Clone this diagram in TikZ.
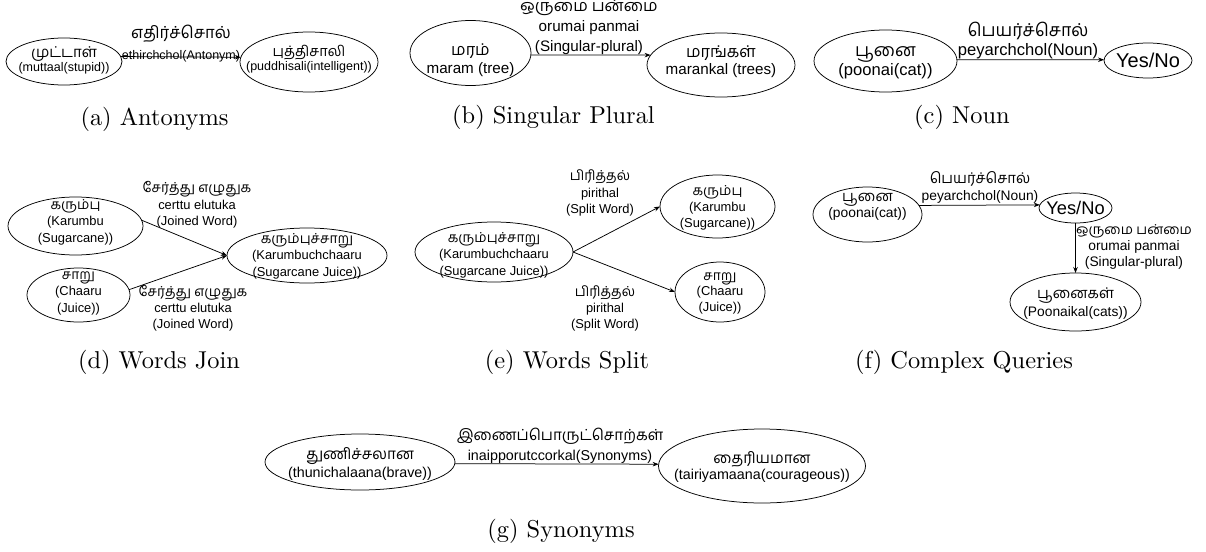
\documentclass[tikz,border=0pt]{standalone}
\usepackage{fontspec}
\setsansfont{Liberation Sans}
\newfontfamily\tamil[Script=Tamil,Scale=1.07]{Hind Madurai}
\newfontfamily\capfont{lmroman10-regular.otf}
\usetikzlibrary{shapes.geometric,arrows.meta}
\newcommand\fsz[2]{\fontsize{#1}{#2}\selectfont}
\tikzset{
  ell/.style 2 args={ellipse,draw,line width=0.75pt,inner sep=0pt,outer sep=0pt,minimum width=#1,minimum height=#2},
  arr/.style={-{Stealth[length=6pt,width=4.5pt]},line width=0.75pt},
  tx/.style 2 args={align=center,inner sep=0pt,font=\sffamily\fsz{#1}{#2}},
  captext/.style={inner sep=0pt,font=\capfont\fsz{24.4}{29}}}
\begin{document}
\begin{tikzpicture}[x=1pt,y=-1pt]
\useasboundingbox (0,0) rectangle (1206,551);

% (a) Antonyms
\node[ell={116pt}{47pt}] (A1) at (64,61.5) {};
\node[tx={12.5}{14}] (A1t) at (64,60) {{\tamil\fontsize{14}{14}\selectfont முட்டாள்}\\(muttaal(stupid))};
\node[ell={138pt}{60pt}] (A2) at (309,62) {};
\node[tx={12.5}{14}] (A2t) at (309,59.5) {{\tamil\fontsize{13.5}{14}\selectfont புத்திசாலி}\\(puddhisali(intelligent))};
\node[tx={12.5}{21}] (la) at (181,43.5) {{\tamil\fontsize{15.5}{21}\selectfont எதிர்ச்சொல்}\\ethirchchol(Antonym)};
\draw[arr] (A1.5) -- (A2.176);
\node[captext] (capa) at (154.5,119.5) {(a) Antonyms};

% (b) Singular Plural
\node[ell={121pt}{65pt}] (B1) at (470.5,53) {};
\node[tx={15.2}{17.5}] (B1t) at (470.5,60) {{\tamil மரம்}\\maram (tree)};
\node[ell={148pt}{64pt}] (B2) at (721,65) {};
\node[tx={15.2}{17.5}] (B2t) at (721,61.5) {{\tamil மரங்கள்}\\marankal (trees)};
\node[tx={15.2}{20}] (lb) at (589,27) {{\tamil ஒருமை பன்மை}\\orumai panmai\\(Singular-plural)};
\draw[arr] (B1.-2) -- (B2.172);
\node[captext] (capb) at (553.5,117) {(b) Singular Plural};

% (c) Noun
\node[ell={143pt}{62pt}] (C1) at (885.5,61) {};
\node[tx={16.6}{19}] (C1t) at (885.5,63) {{\tamil பூனை}\\(poonai(cat))};
\node[ell={88pt}{35pt}] (C2) at (1148,60.5) {};
\node[tx={20}{24}] (C2t) at (1148,60.5) {Yes/No};
\node[tx={16.6}{19}] (lc) at (1028,40.5) {{\tamil பெயர்ச்சொல்}\\peyarchchol(Noun)};
\draw[arr] (C1.1) -- (C2.179);
\node[captext] (capc) at (962,117.5) {(c) Noun};

% (d) Words Join
\node[ell={135pt}{58pt}] (D1) at (75.5,226) {};
\node[tx={12.9}{16.5}] (D1t) at (75.5,222) {{\tamil கரும்பு}\\(Karumbu\\(Sugarcane))};
\node[ell={103pt}{54pt}] (D2) at (78.5,295) {};
\node[tx={12.9}{16.5}] (D2t) at (78.5,293) {{\tamil சாறு}\\(Chaaru\\(Juice))};
\node[ell={160pt}{55pt}] (D3) at (307,255.5) {};
\node[tx={12.9}{16.5}] (D3t) at (307,256) {{\tamil கரும்புச்சாறு}\\(Karumbuchchaaru\\(Sugarcane Juice))};
\node[tx={12.9}{16.5}] (ld1) at (197,205) {{\tamil சேர்த்து எழுதுக}\\certtu elutuka\\(Joined Word)};
\node[tx={12.9}{16}] (ld2) at (193,308) {{\tamil சேர்த்து எழுதுக}\\certtu elutuka\\(Joined Word)};
\draw[arr] (D1.5) -- (D3.west);
\draw[arr] (D2.6) -- (D3.west);
\node[captext] (capd) at (159,362) {(d) Words Join};

% (e) Words Split
\node[ell={158pt}{60pt}] (E1) at (494,252) {};
\node[tx={12.9}{16.5}] (E1t) at (494,255) {{\tamil கரும்புச்சாறு}\\(Karumbuchchaaru\\(Sugarcane Juice))};
\node[ell={115pt}{63pt}] (E2) at (717.5,206.5) {};
\node[tx={12.9}{16}] (E2t) at (717.5,208) {{\tamil கரும்பு}\\(Karumbu\\(Sugarcane))};
\node[ell={90pt}{60pt}] (E3) at (720,292) {};
\node[tx={12.9}{15.5}] (E3t) at (720,293) {{\tamil சாறு}\\(Chaaru\\(Juice))};
\node[tx={12.9}{16.5}] (le1) at (600,193) {{\tamil பிரித்தல்}\\pirithal\\(Split Word)};
\node[tx={12.9}{16}] (le2) at (605,308) {{\tamil பிரித்தல்}\\pirithal\\(Split Word)};
\draw[arr] (E1.east) -- (E2.west);
\draw[arr] (E1.east) -- (E3.west);
\node[captext] (cape) at (567,362) {(e) Words Split};

% (f) Complex Queries
\node[ell={109pt}{55pt}] (F1) at (867.5,214.5) {};
\node[tx={13.8}{16.5}] (F1t) at (867.5,207) {{\tamil பூனை}\\(poonai(cat))};
\node[ell={73pt}{30pt}] (F2) at (1075.5,208) {};
\node[tx={18.3}{22}] (F2t) at (1075.5,208) {Yes/No};
\node[ell={131pt}{58pt}] (F3) at (1075.5,302) {};
\node[tx={13.8}{18}] (F3t) at (1075.5,304) {{\tamil பூனைகள்}\\(Poonaikal(cats))};
\node[tx={13.8}{17}] (lf1) at (980,187.5) {{\tamil பெயர்ச்சொல்}\\peyarchchol(Noun)};
\node[tx={13.8}{16}] (lf2) at (1134,247) {{\tamil\fontsize{12.8}{16}\selectfont ஒருமை பன்மை}\\orumai panmai\\(Singular-plural)};
\draw[arr] (F1.10) -- (F2.175);
\draw[arr] (F2.south) -- (F3.north);
\node[captext] (capf) at (964,362) {(f) Complex Queries};

% (g) Synonyms
\node[ell={190pt}{56pt}] (G1) at (360,462) {};
\node[tx={14.3}{17.5}] (G1t) at (360,464) {{\tamil துணிச்சலான}\\(thunichalaana(brave))};
\node[ell={207pt}{74pt}] (G2) at (762,466) {};
\node[tx={14.3}{16.5}] (G2t) at (762,467) {{\tamil தைரியமான}\\(tairiyamaana(courageous))};
\node[tx={14.3}{20}] (lg) at (560,445.5) {{\tamil இணைப்பொருட்சொற்கள்}\\inaipporutccorkal(Synonyms)};
\draw[arr] (G1.-1) -- (G2.179);
\node[captext] (capg) at (561,531) {(g) Synonyms};
\end{tikzpicture}
\end{document}
